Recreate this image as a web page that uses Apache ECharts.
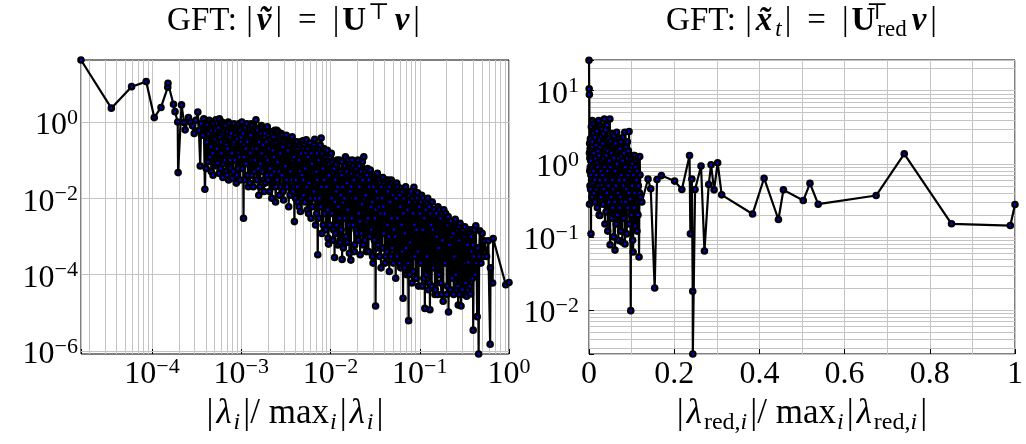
<!DOCTYPE html>
<html><head><meta charset="utf-8">
<script src="https://cdn.jsdelivr.net/npm/echarts@6/dist/echarts.min.js"></script>
<style>html,body{margin:0;padding:0;background:#fff}#c{width:1026px;height:444px}</style>
</head><body><div id="c"></div>
<script>
// ---- data: left panel (full spectrum), pairs [|lambda_i|/max|lambda|, |v~_i|], split by decade
const fullLowest = [
[1.6e-5,42],[3.5e-5,2.3],[5.9e-5,8.4],[8.6e-5,11.4],[1.06e-4,1.3],[1.26e-4,2.4],[1.5e-4,8.1],[1.51e-4,10.3],[1.74e-4,2.9],[1.81e-4,1.86],
[1.94e-4,1.0],[1.96e-4,0.047],[2.14e-4,2.8],[2.29e-4,0.96],[2.35e-4,0.62],[2.56e-4,1.3],[2.7e-4,1.0],[2.84e-4,0.79],[2.97e-4,0.5],[3.1e-4,1.1],
[3.26e-4,1.83],[3.35e-4,0.6],[3.47e-4,0.07],[3.55e-4,0.9],[3.7e-4,0.45],[3.8e-4,1.2],[3.91e-4,0.0173]
];
const fullDecadeM4 = [
[4.0e-4,0.75],[4.05e-4,0.06],[4.1e-4,0.3],[4.14e-4,1.0],[4.18e-4,0.83],[4.24e-4,0.09],[4.3e-4,0.5],[4.37e-4,1.1],[4.45e-4,0.12],[4.51e-4,0.7],
[4.57e-4,0.225],[4.61e-4,0.05],[4.65e-4,0.6],[4.71e-4,1.0],[4.77e-4,0.151],[4.83e-4,0.04],[4.9e-4,0.9],[4.97e-4,0.08],[5.05e-4,0.35],[5.12e-4,0.6],
[5.2e-4,1.13],[5.25e-4,0.07],[5.3e-4,0.2],[5.36e-4,0.9],[5.42e-4,0.083],[5.48e-4,0.3],[5.55e-4,0.7],[5.62e-4,0.045],[5.7e-4,1.2],[5.75e-4,0.15],
[5.8e-4,0.4],[5.85e-4,0.06],[5.9e-4,0.925],[5.95e-4,0.3],[6.0e-4,0.15],[6.07e-4,1.0],[6.15e-4,0.5],[6.22e-4,0.035],[6.3e-4,0.08],[6.37e-4,0.6],
[6.45e-4,0.9],[6.52e-4,0.1],[6.6e-4,0.3],[6.67e-4,0.8],[6.75e-4,0.05],[6.82e-4,0.25],[6.9e-4,0.6],[6.95e-4,0.04],[7.0e-4,0.2],[7.07e-4,0.55],
[7.15e-4,1.0],[7.22e-4,0.03],[7.3e-4,0.12],[7.37e-4,0.9],[7.45e-4,0.4],[7.52e-4,0.1],[7.6e-4,0.06],[7.7e-4,0.5],[7.8e-4,0.7],[7.87e-4,0.15],
[7.95e-4,0.0335],[8.02e-4,0.8],[8.1e-4,0.25],[8.2e-4,0.05],[8.3e-4,0.9],[8.4e-4,0.3],[8.5e-4,0.1],[8.6e-4,0.7],[8.7e-4,0.45],[8.8e-4,0.025],
[8.9e-4,0.04],[9.0e-4,0.35],[9.1e-4,0.8],[9.2e-4,0.06],[9.3e-4,0.15],[9.4e-4,0.9],[9.5e-4,0.5],[9.6e-4,0.12],[9.7e-4,0.03],[9.8e-4,0.6],
[9.9e-4,0.3]
];
const fullDecadeM3 = [
[1.0e-3,0.4],[1.015e-3,1.0],[1.03e-3,0.06],[1.045e-3,0.5],[1.06e-3,0.003],[1.07e-3,0.12],[1.08e-3,0.25],[1.095e-3,0.03],[1.11e-3,0.7],[1.125e-3,0.2],
[1.14e-3,0.08],[1.155e-3,0.9],[1.17e-3,0.3],[1.185e-3,0.04],[1.2e-3,0.02],[1.215e-3,0.6],[1.23e-3,0.5],[1.245e-3,0.025],[1.26e-3,0.15],[1.275e-3,0.45],
[1.29e-3,0.9],[1.305e-3,0.1],[1.32e-3,0.04],[1.335e-3,0.8],[1.35e-3,0.2],[1.365e-3,0.02],[1.38e-3,0.6],[1.4e-3,0.05],[1.42e-3,0.1],[1.44e-3,0.7],
[1.46e-3,1.13],[1.48e-3,0.2],[1.5e-3,0.03],[1.515e-3,0.6],[1.53e-3,0.35],[1.55e-3,0.06],[1.57e-3,0.012],[1.585e-3,0.3],[1.6e-3,0.45],[1.62e-3,0.02],
[1.64e-3,0.08],[1.66e-3,0.5],[1.68e-3,0.8],[1.7e-3,0.15],[1.72e-3,0.05],[1.74e-3,0.7],[1.76e-3,0.25],[1.78e-3,0.03],[1.8e-3,0.015],[1.82e-3,0.4],
[1.84e-3,0.5],[1.86e-3,0.025],[1.88e-3,0.12],[1.9e-3,0.7],[1.92e-3,0.3],[1.94e-3,0.04],[1.96e-3,0.75],[1.98e-3,0.1],[2.0e-3,0.03],[2.025e-3,0.45],
[2.05e-3,0.2],[2.075e-3,0.015],[2.1e-3,0.06],[2.125e-3,0.35],[2.15e-3,0.55],[2.175e-3,0.04],[2.2e-3,0.01],[2.225e-3,0.5],[2.25e-3,0.18],[2.275e-3,0.02],
[2.3e-3,0.4],[2.325e-3,0.12],[2.35e-3,0.05],[2.375e-3,0.6],[2.4e-3,0.28],[2.425e-3,0.008],[2.45e-3,0.02],[2.475e-3,0.3],[2.5e-3,0.6],[2.53e-3,0.03],
[2.56e-3,0.09],[2.59e-3,0.55],[2.62e-3,0.35],[2.65e-3,0.05],[2.68e-3,0.012],[2.71e-3,0.4],[2.74e-3,0.15],[2.77e-3,0.02],[2.8e-3,0.5],[2.83e-3,0.2],
[2.86e-3,0.04],[2.89e-3,0.45],[2.92e-3,0.22],[2.95e-3,0.015],[2.98e-3,0.009],[3.01e-3,0.35],[3.05e-3,0.3],[3.08e-3,0.02],[3.12e-3,0.07],[3.15e-3,0.4],
[3.19e-3,0.45],[3.22e-3,0.03],[3.26e-3,0.02],[3.3e-3,0.3],[3.33e-3,0.18],[3.37e-3,0.05],[3.4e-3,0.006],[3.44e-3,0.35],[3.48e-3,0.25],[3.52e-3,0.012],
[3.56e-3,0.05],[3.6e-3,0.3],[3.64e-3,0.35],[3.68e-3,0.03],[3.72e-3,0.41],[3.76e-3,0.1],[3.8e-3,0.015],[3.84e-3,0.3],[3.88e-3,0.12],[3.91e-3,0.02],
[3.94e-3,0.00245],[3.97e-3,0.3],[4.0e-3,0.2],[4.05e-3,0.01],[4.1e-3,0.03],[4.15e-3,0.25],[4.2e-3,0.3],[4.25e-3,0.02],[4.3e-3,0.008],[4.35e-3,0.2],
[4.4e-3,0.1],[4.45e-3,0.006],[4.5e-3,0.25],[4.55e-3,0.05],[4.6e-3,0.0045],[4.65e-3,0.3],[4.7e-3,0.15],[4.75e-3,0.01],[4.8e-3,0.04],[4.85e-3,0.2],
[4.9e-3,0.32],[4.95e-3,0.03],[5.0e-3,0.012],[5.05e-3,0.25],[5.1e-3,0.2],[5.15e-3,0.008],[5.2e-3,0.06],[5.27e-3,0.15],[5.35e-3,0.34],[5.42e-3,0.02],
[5.5e-3,0.005],[5.55e-3,0.2],[5.6e-3,0.12],[5.67e-3,0.004],[5.75e-3,0.025],[5.82e-3,0.25],[5.9e-3,0.28],[5.97e-3,0.01],[6.05e-3,0.003],[6.12e-3,0.15],
[6.2e-3,0.08],[6.27e-3,0.006],[6.35e-3,0.2],[6.42e-3,0.05],[6.5e-3,0.015],[6.57e-3,0.25],[6.65e-3,0.35],[6.72e-3,0.01],[6.8e-3,0.002],[6.87e-3,0.2],
[6.95e-3,0.05],[7.0e-3,0.004],[7.05e-3,0.15],[7.12e-3,0.03],[7.2e-3,3.3e-4],[7.27e-3,0.2],[7.35e-3,0.1],[7.42e-3,0.003],[7.5e-3,0.01],[7.57e-3,0.2],
[7.65e-3,0.25],[7.75e-3,0.006],[7.85e-3,0.38],[7.92e-3,0.02],[8.0e-3,0.0012],[8.1e-3,0.15],[8.2e-3,0.06],[8.3e-3,0.002],[8.4e-3,0.2],[8.5e-3,0.03],
[8.6e-3,0.004],[8.7e-3,0.18],[8.8e-3,0.12],[8.9e-3,0.0015],[9.0e-3,0.02],[9.1e-3,0.15],[9.2e-3,0.18],[9.3e-3,0.005],[9.4e-3,0.0009],[9.45e-3,0.1],
[9.5e-3,6.3e-4],[9.6e-3,0.04],[9.7e-3,0.08],[9.8e-3,0.002],[9.9e-3,0.01],[9.95e-3,0.12]
];
const fullDecadeM2 = [
[1.02e-2,0.15],[1.03e-2,0.01],[1.04e-2,0.004],[1.05e-2,0.09],[1.06e-2,0.05],[1.07e-2,0.0008],[1.08e-2,0.0015],[1.095e-2,0.06],[1.11e-2,2.8e-4],[1.12e-2,0.008],
[1.13e-2,0.03],[1.14e-2,0.0012],[1.15e-2,0.08],[1.16e-2,0.015],[1.17e-2,0.002],[1.185e-2,0.1],[1.2e-2,0.02],[1.21e-2,6e-4],[1.22e-2,0.006],[1.235e-2,0.04],
[1.25e-2,0.1],[1.265e-2,0.003],[1.28e-2,7e-4],[1.29e-2,0.05],[1.3e-2,0.012],[1.315e-2,0.0015],[1.33e-2,0.04],[1.34e-2,0.09],[1.35e-2,2.5e-4],[1.365e-2,0.02],
[1.38e-2,0.008],[1.395e-2,5e-4],[1.41e-2,0.06],[1.425e-2,0.01],[1.44e-2,0.003],[1.455e-2,0.07],[1.47e-2,0.123],[1.485e-2,0.005],[1.5e-2,0.001],[1.515e-2,0.05],
[1.53e-2,0.025],[1.545e-2,7e-4],[1.56e-2,0.005],[1.58e-2,0.1],[1.6e-2,0.07],[1.615e-2,0.002],[1.63e-2,3.6e-4],[1.645e-2,0.04],[1.66e-2,0.015],[1.675e-2,0.08],
[1.69e-2,2.4e-4],[1.705e-2,0.02],[1.72e-2,0.045],[1.735e-2,0.003],[1.75e-2,0.101],[1.77e-2,0.01],[1.79e-2,0.002],[1.81e-2,0.07],[1.83e-2,0.03],[1.85e-2,4e-4],
[1.87e-2,6e-4],[1.89e-2,0.05],[1.91e-2,0.01],[1.93e-2,0.0015],[1.95e-2,0.06],[1.97e-2,0.02],[1.99e-2,0.0012],[2.01e-2,0.04],[2.03e-2,0.1],[2.05e-2,0.0008],
[2.07e-2,0.004],[2.09e-2,0.07],[2.11e-2,0.02],[2.13e-2,0.0025],[2.15e-2,3.3e-4],[2.175e-2,0.035],[2.2e-2,0.05],[2.225e-2,0.0012],[2.25e-2,0.007],[2.275e-2,0.09],
[2.3e-2,0.03],[2.33e-2,0.0006],[2.36e-2,0.123],[2.39e-2,0.01],[2.42e-2,8e-4],[2.45e-2,0.05],[2.48e-2,0.012],[2.51e-2,4e-4],[2.54e-2,0.0025],[2.57e-2,0.04],
[2.6e-2,0.06],[2.63e-2,0.003],[2.66e-2,4e-4],[2.69e-2,0.03],[2.72e-2,0.02],[2.75e-2,0.001],[2.79e-2,0.055],[2.82e-2,0.006],[2.86e-2,0.0015],[2.9e-2,0.04],
[2.93e-2,0.008],[2.96e-2,3e-4],[3.0e-2,2e-4],[3.03e-2,0.02],[3.07e-2,0.035],[3.1e-2,0.0008],[3.14e-2,0.003],[3.17e-2,0.04],[3.2e-2,1.5e-5],[3.23e-2,0.005],
[3.27e-2,0.015],[3.31e-2,5e-4],[3.35e-2,0.045],[3.39e-2,0.01],[3.43e-2,6e-4],[3.47e-2,0.03],[3.51e-2,0.006],[3.55e-2,3e-4],[3.6e-2,0.025],[3.64e-2,0.004],
[3.68e-2,1.5e-4],[3.72e-2,0.02],[3.77e-2,0.01],[3.81e-2,5e-4],[3.86e-2,0.035],[3.9e-2,0.006],[3.95e-2,0.0012],[4.0e-2,0.025],[4.05e-2,0.004],[4.1e-2,2e-4],
[4.15e-2,3e-4],[4.2e-2,0.03],[4.25e-2,0.02],[4.3e-2,4e-4],[4.35e-2,0.002],[4.4e-2,0.015],[4.45e-2,0.03],[4.5e-2,0.001],[4.56e-2,1.2e-4],[4.61e-2,0.02],
[4.67e-2,0.008],[4.73e-2,3e-4],[4.8e-2,0.03],[4.85e-2,0.003],[4.9e-2,5e-4],[4.95e-2,0.025],[5.0e-2,0.012],[5.06e-2,2e-4],[5.12e-2,0.0015],[5.18e-2,0.02],
[5.25e-2,0.022],[5.31e-2,0.001],[5.38e-2,8e-5],[5.44e-2,0.01],[5.5e-2,0.025],[5.56e-2,3e-4],[5.63e-2,0.003],[5.7e-2,0.02],[5.77e-2,0.015],[5.83e-2,2e-4],
[5.9e-2,2e-4],[5.97e-2,0.012],[6.05e-2,0.006],[6.12e-2,1.5e-4],[6.2e-2,0.018],[6.27e-2,0.002],[6.35e-2,4e-4],[6.42e-2,0.015],[6.5e-2,2.4e-5],[6.57e-2,0.004],
[6.65e-2,0.01],[6.72e-2,1.5e-4],[6.8e-2,0.0012],[6.87e-2,0.018],[6.95e-2,0.02],[7.02e-2,5e-4],[7.1e-2,1e-4],[7.2e-2,0.012],[7.3e-2,0.005],[7.4e-2,2e-4],
[7.5e-2,6.2e-6],[7.57e-2,0.008],[7.65e-2,0.012],[7.72e-2,1e-4],[7.8e-2,7e-4],[7.9e-2,0.015],[8.0e-2,0.015],[8.1e-2,3e-4],[8.2e-2,6e-5],[8.3e-2,0.01],
[8.4e-2,0.004],[8.5e-2,1.2e-4],[8.6e-2,0.0195],[8.7e-2,0.002],[8.8e-2,3e-4],[8.9e-2,0.012],[9.0e-2,0.008],[9.1e-2,8e-5],[9.2e-2,0.0015],[9.32e-2,0.01],
[9.45e-2,0.014],[9.57e-2,4e-4],[9.7e-2,5e-5],[9.8e-2,0.008],[9.9e-2,0.006]
];
const fullDecadeM1 = [
[0.1,0.004],[0.102,2e-4],[0.1035,0.008],[0.105,0.012],[0.1065,5e-5],[0.108,0.0015],[0.1095,0.01],[0.111,8e-5],[0.1125,0.003],[0.114,1.3e-5],
[0.1155,0.008],[0.117,0.005],[0.1185,1e-4],[0.12,3e-4],[0.1215,0.007],[0.123,0.01],[0.125,4e-5],[0.127,6e-5],[0.1285,0.006],[0.13,1.2e-5],
[0.132,0.004],[0.134,0.002],[0.136,5e-5],[0.138,0.008],[0.14,0.0015],[0.142,1.5e-4],[0.144,0.005],[0.146,0.0035],[0.148,3e-5],[0.15,4e-5],
[0.1525,0.004],[0.155,0.001],[0.1575,3e-5],[0.16,0.006],[0.1625,5e-4],[0.165,1e-4],[0.1675,0.005],[0.17,0.003],[0.1725,6e-5],[0.175,3e-5],
[0.1775,0.004],[0.18,0.0008],[0.183,2e-5],[0.186,0.005],[0.189,0.002],[0.192,2e-4],[0.195,0.004],[0.198,0.002],[0.201,3e-5],[0.204,5e-5],
[0.206,0.002],[0.208,0.0033],[0.21,1.05e-5],[0.213,0.0025],[0.216,6e-4],[0.22,4e-5],[0.223,0.0025],[0.226,0.001],[0.23,8e-5],[0.233,0.002],
[0.237,0.0012],[0.24,3e-5],[0.244,3e-4],[0.247,0.002],[0.25,0.0028],[0.254,1e-4],[0.258,4e-5],[0.261,0.002],[0.265,0.0015],[0.267,5e-5],
[0.27,1.6e-5],[0.273,0.0018],[0.276,0.0008],[0.28,3e-5],[0.283,0.0022],[0.286,2e-4],[0.29,1.5e-5],[0.293,0.001],[0.296,1.27e-3],[0.3,4e-5],
[0.303,2e-4],[0.306,0.0015],[0.31,0.001],[0.315,3e-5],[0.32,1.8e-3],[0.323,2e-4],[0.327,6e-5],[0.331,0.001],[0.335,2.7e-5],[0.339,0.0012],
[0.343,6e-4],[0.347,4e-5],[0.35,2.1e-4],[0.355,0.0015],[0.36,0.0012],[0.365,5e-5],[0.37,3.1e-5],[0.375,0.001],[0.38,4e-4],[0.385,0.0015],
[0.39,8e-5],[0.394,6e-4],[0.397,3.5e-6],[0.403,3e-4],[0.41,0.0015],[0.417,1e-4],[0.425,0.0019],[0.432,2e-4],[0.44,7.9e-6],[0.448,5e-4],
[0.457,8.3e-7],[0.463,3e-4],[0.47,0.0014],[0.485,2e-4],[0.5,0.0012],[0.515,3e-4],[0.53,7.7e-4],[0.56,3e-4],[0.585,7.7e-4],[0.615,1.5e-6],
[0.62,1.5e-4],[0.655,6e-5],[0.665,8.8e-4],[0.92,5.4e-5],[1.0,6.2e-5]
];

// ---- data: right panel (reduced spectrum), pairs [|lambda_red,i|/max|lambda_red|, |x~_t|]
const redDense = [
[0,26],[0.0004,10.6],[0.0008,8.9],[0.001,1.4],[0.0012,0.28],[0.0015,1.9],[0.0018,0.8],[0.002,1.2],[0.0023,0.5],[0.0026,1.6],
[0.003,0.9],[0.0033,2.2],[0.0037,0.45],[0.004,1.1],[0.0044,0.7],[0.0047,0.11],[0.005,1.5],[0.0055,3.2],[0.006,0.6],[0.0065,1.3],
[0.007,0.35],[0.0075,2.0],[0.0078,3.9],[0.0082,0.9],[0.0087,0.3],[0.0092,1.7],[0.0097,0.55],[0.0102,2.6],[0.0107,0.8],[0.0112,1.4],
[0.0118,0.4],[0.0124,3.5],[0.013,1.0],[0.0136,0.6],[0.0142,2.3],[0.0148,0.3],[0.0154,1.2],[0.016,3.0],[0.0166,0.7],[0.0172,1.8],
[0.0178,0.45],[0.0184,2.8],[0.019,1.0],[0.0196,0.25],[0.0202,3.6],[0.0208,0.9],[0.0214,1.5],[0.022,0.5],[0.0226,3.9],[0.0232,1.3],
[0.0238,0.2],[0.0245,2.1],[0.0252,0.6],[0.0257,0.196],[0.0264,1.7],[0.027,3.3],[0.0277,0.8],[0.0284,0.35],[0.029,2.4],[0.0297,1.1],
[0.0304,0.5],[0.031,3.0],[0.0317,0.7],[0.0324,1.9],[0.033,0.28],[0.0337,2.6],[0.0344,1.2],[0.035,0.45],[0.036,4.1],[0.0367,0.9],
[0.0374,0.15],[0.038,1.6],[0.0388,0.6],[0.0395,2.9],[0.04,0.22],[0.041,1.3],[0.0418,0.4],[0.0425,3.4],[0.0433,0.8],[0.044,0.12],
[0.0447,1.5],[0.0455,0.5],[0.0462,2.2],[0.047,0.3],[0.0478,1.1],[0.049,4.1],[0.0495,0.078],[0.0502,0.9],[0.051,2.0],[0.0518,0.35],
[0.0525,1.4],[0.0533,0.18],[0.054,2.6],[0.0548,0.6],[0.0555,0.25],[0.0563,1.8],[0.057,0.45],[0.0578,0.1],[0.0585,1.2],[0.0593,2.4],
[0.06,0.3],[0.061,0.066],[0.0617,0.8],[0.0625,1.9],[0.0633,0.5],[0.064,0.15],[0.065,2.7],[0.0657,1.0],[0.0665,0.2],[0.0672,1.5],
[0.068,0.4],[0.0688,0.09],[0.0695,1.2],[0.0703,2.2],[0.071,0.6],[0.072,0.25],[0.0728,1.6],[0.0735,0.35],[0.0743,0.12],[0.075,2.0],
[0.0758,0.7],[0.0766,1.3],[0.0774,0.3],[0.0782,0.085],[0.079,1.1],[0.0798,2.3],[0.0806,0.5],[0.0814,0.18],[0.0822,1.4],[0.083,0.6],
[0.084,2.7],[0.0845,0.08],[0.0853,0.9],[0.0861,0.3],[0.087,1.7],[0.0878,0.45],[0.0886,0.11],[0.0894,1.2],[0.0902,2.0],[0.091,0.25],
[0.0918,0.7],[0.0926,1.5],[0.0934,0.4],[0.094,2.77],[0.0947,0.15],[0.0955,0.8],[0.0962,1.3],[0.097,0.33],[0.098,0.0098],[0.0987,0.9],
[0.0995,0.2],[0.1003,1.2],[0.101,0.5],[0.1018,1.0],[0.1026,0.09],[0.1036,0.062],[0.1044,0.7],[0.1052,1.3],[0.106,0.25],[0.107,1.3],
[0.1078,0.4],[0.1086,0.14],[0.1094,0.9],[0.1102,0.3],[0.111,1.1],[0.1118,0.6],[0.1126,0.12],[0.1134,0.8],[0.1142,1.2],[0.115,0.2],
[0.1158,0.5],[0.1166,0.3],[0.1175,0.053],[0.1183,0.4],[0.119,1.26],[0.1198,0.7],[0.1207,0.35],[0.124,0.3]
];
const redSparse = [
[0.1386,0.62],[0.1449,0.455],[0.1542,0.02],[0.1597,0.61],[0.17,0.69],[0.201,0.58],[0.218,0.445],[0.236,1.3],[0.238,0.11],[0.2415,0.62],
[0.2435,0.018],[0.2437,0.0025],[0.249,0.445],[0.263,0.93],[0.271,0.064],[0.281,0.52],[0.2866,0.97],[0.2936,0.44],[0.302,1.03],[0.3115,0.376],
[0.384,0.206],[0.411,0.635],[0.4447,0.173],[0.4564,0.44],[0.503,0.314],[0.5187,0.54],[0.538,0.28],[0.674,0.368],[0.74,1.37],[0.851,0.151],
[0.989,0.143],[1.0,0.277]
];
const spectrumFull = fullLowest.concat(fullDecadeM4, fullDecadeM3, fullDecadeM2, fullDecadeM1);
const spectrumRed = redDense.concat(redSparse);

// ---- axis ranges and tick labels
const leftXRange = [1.6e-5, 1];
const leftYRange = [8.3e-7, 42];
const rightXRange = [0, 1];
const rightYRange = [2.5e-3, 26.3];
const leftXLabelExps = [-4, -3, -2, -1, 0];
const leftYLabelExps = [-6, -4, -2, 0];
const rightYLabelExps = [-2, -1, 0, 1];
const rightXLabels = {0: '0', 0.2: '0.2', 0.4: '0.4', 0.6: '0.6', 0.8: '0.8', 1: '1'};
const leftYMajorGrid = [1e-6, 1e-4, 1e-2, 1];

// minor log grid positions k*10^n (k = 2..9)
function minorLogLines(lo, hi) {
  const out = [];
  for (let n = Math.floor(Math.log10(lo)); n <= Math.ceil(Math.log10(hi)); n++) {
    for (let k = 2; k <= 9; k++) {
      const v = k * Math.pow(10, n);
      if (v > lo && v < hi) out.push(v);
    }
  }
  return out;
}

const SERIF = '"Liberation Serif", "DejaVu Serif", serif';
const GRID = '#c4c4c4';
const tickRich = {
  b: {fontFamily: SERIF, fontSize: 32, lineHeight: 38, color: '#000'},
  s: {fontFamily: SERIF, fontSize: 22, lineHeight: 22, verticalAlign: 'top', color: '#000'}
};
function logFormatter(exps) {
  return function (v) {
    const e = Math.log10(v), r = Math.round(e);
    if (Math.abs(e - r) > 1e-6 || exps.indexOf(r) < 0) return '';
    return '{b|10}{s|' + (r < 0 ? '\u2212' + (-r) : r) + '}';
  };
}
const nameRich = {
  n: {fontFamily: SERIF, fontSize: 35, lineHeight: 42, color: '#000', padding: [0, 1]},
  it: {fontFamily: SERIF, fontSize: 35, lineHeight: 42, fontStyle: 'italic', color: '#000', padding: [0, 2]},
  sub: {fontFamily: SERIF, fontSize: 24, lineHeight: 24, verticalAlign: 'bottom', color: '#000'},
  subi: {fontFamily: SERIF, fontSize: 24, lineHeight: 24, verticalAlign: 'bottom', fontStyle: 'italic', color: '#000', padding: [0, 2, 0, 0]}
};
const titleRich = {
  n: {fontFamily: SERIF, fontSize: 33, lineHeight: 40, color: '#000'},
  bar: {fontFamily: SERIF, fontSize: 33, lineHeight: 40, color: '#000', padding: [0, 1]},
  eq: {fontFamily: SERIF, fontSize: 33, lineHeight: 40, padding: [0, 15], color: '#000'},
  b: {fontFamily: SERIF, fontSize: 33, lineHeight: 40, fontWeight: 'bold', color: '#000', padding: [0, 2, 0, 2]},
  bi: {fontFamily: SERIF, fontSize: 33, lineHeight: 40, fontWeight: 'bold', fontStyle: 'italic', color: '#000', padding: [0, 3]},
  sup: {fontFamily: SERIF, fontSize: 23, lineHeight: 23, verticalAlign: 'top', color: '#000', padding: [0, 2, 0, 0]},
  supw: {fontFamily: SERIF, fontSize: 23, lineHeight: 23, verticalAlign: 'top', width: 0, align: 'left', color: '#000'},
  sub: {fontFamily: SERIF, fontSize: 23, lineHeight: 23, verticalAlign: 'bottom', color: '#000', padding: [0, 2, 0, 0]},
  subi: {fontFamily: SERIF, fontSize: 23, lineHeight: 23, verticalAlign: 'bottom', fontStyle: 'italic', color: '#000', padding: [0, 2, 0, 0]}
};

const markerStyle = {color: '#0000ff', borderColor: '#000', borderWidth: 2.6};
const minorLineStyle = {color: GRID, width: 1, type: 'solid'};
function gridMarkLine(items) {
  return {silent: true, z: 1, precision: 20, symbol: ['none', 'none'], animation: false,
    label: {show: false}, emphasis: {disabled: true}, lineStyle: minorLineStyle, data: items};
}

const chart = echarts.init(document.getElementById('c'), null, {renderer: 'canvas'});
chart.setOption({
  animation: false,
  backgroundColor: '#fff',
  grid: [
    {left: 81, top: 60, width: 428, height: 294, show: true, borderColor: '#000', borderWidth: 1, backgroundColor: 'transparent'},
    {left: 589, top: 60, width: 428, height: 294, show: true, borderColor: '#000', borderWidth: 1, backgroundColor: 'transparent'}
  ],
  graphic: [
    {type: 'text', x: 294, y: 1, z: 10, style: {
      text: '{n|GFT: }{bar||}{bi|v\u0303}{bar||}{eq|=}{bar||}{b|U}{sup|\u22A4}{bi|v}{bar||}',
      align: 'center', verticalAlign: 'top', rich: titleRich}},
    {type: 'text', x: 802, y: 1, z: 10, style: {
      text: '{n|GFT: }{bar||}{bi|x\u0303}{subi|t}{bar||}{eq|=}{bar||}{b|U}{supw|\u22A4}{sub|red}{bi|v}{bar||}',
      align: 'center', verticalAlign: 'top', rich: titleRich}}
  ],
  xAxis: [
    {gridIndex: 0, type: 'log', logBase: 10, min: leftXRange[0], max: leftXRange[1],
     axisLine: {show: false}, axisTick: {show: true, inside: true, length: 5, lineStyle: {color: '#000'}},
     splitLine: {show: true, lineStyle: {color: GRID, width: 1}},
     axisLabel: {formatter: logFormatter(leftXLabelExps), rich: tickRich, margin: 2},
     name: '{n||}{it|\u03BB}{subi|i}{n||/ max}{subi|i}{n||}{it|\u03BB}{subi|i}{n||}',
     nameLocation: 'middle', nameGap: 35, nameTextStyle: {rich: nameRich}},
    {gridIndex: 1, type: 'value', min: rightXRange[0], max: rightXRange[1], interval: 0.2,
     axisLine: {show: false}, axisTick: {show: true, inside: true, length: 5, lineStyle: {color: '#000'}},
     minorTick: {show: false, splitNumber: 2},
     splitLine: {show: true, lineStyle: {color: GRID, width: 1}},
     minorSplitLine: {show: true, lineStyle: {color: GRID, width: 1}},
     axisLabel: {formatter: v => '{b|' + (rightXLabels[Math.round(v * 10) / 10] || '') + '}', rich: tickRich, margin: 2},
     name: '{n||}{it|\u03BB}{sub|red,}{subi|i}{n||/ max}{subi|i}{n||}{it|\u03BB}{sub|red,}{subi|i}{n||}',
     nameLocation: 'middle', nameGap: 35, nameTextStyle: {rich: nameRich}}
  ],
  yAxis: [
    {gridIndex: 0, type: 'log', logBase: 10, min: leftYRange[0], max: leftYRange[1],
     axisLine: {show: false}, axisTick: {show: false},
     splitLine: {show: false},
     axisLabel: {formatter: logFormatter(leftYLabelExps), rich: tickRich, margin: 3, padding: [8, 0, 0, 0]}},
    {gridIndex: 1, type: 'log', logBase: 10, min: rightYRange[0], max: rightYRange[1],
     axisLine: {show: false}, axisTick: {show: true, inside: true, length: 5, lineStyle: {color: '#000'}},
     splitLine: {show: true, lineStyle: {color: GRID, width: 1}},
     axisLabel: {formatter: logFormatter(rightYLabelExps), rich: tickRich, margin: 10, padding: [8, 0, 0, 0]}}
  ],
  series: [
    {type: 'line', xAxisIndex: 0, yAxisIndex: 0, data: spectrumFull, clip: false,
     symbol: 'circle', symbolSize: 5, showSymbol: true, showAllSymbol: true,
     lineStyle: {color: '#000', width: 2.2}, itemStyle: markerStyle, emphasis: {disabled: true},
     markLine: gridMarkLine(
       minorLogLines(leftXRange[0], leftXRange[1]).map(v => ({xAxis: v}))
         .concat(leftYMajorGrid.map(v => ({yAxis: v}))))},
    {type: 'line', xAxisIndex: 1, yAxisIndex: 1, data: spectrumRed, clip: false,
     symbol: 'circle', symbolSize: 5, showSymbol: true, showAllSymbol: true,
     lineStyle: {color: '#000', width: 2.2}, itemStyle: markerStyle, emphasis: {disabled: true},
     markLine: gridMarkLine(minorLogLines(rightYRange[0], rightYRange[1]).map(v => ({yAxis: v})))}
  ]
});
</script></body></html>
